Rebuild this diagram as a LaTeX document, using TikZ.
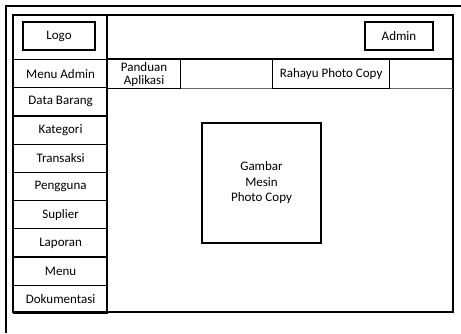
\documentclass[tikz,border=0pt]{standalone}
\usepackage{fontspec}
\setmainfont{Carlito}
\usetikzlibrary{positioning}

\begin{document}
\begin{tikzpicture}[x=1pt,y=-1pt,
    frame/.style={line width=1.2pt},
    cell/.style={draw,line width=1.2pt,inner sep=0pt,minimum width=94pt,
        minimum height=28.2pt,font=\fontsize{13}{13}\selectfont},
    btn/.style={draw,line width=1.2pt,inner sep=0pt,align=center,
        font=\fontsize{13}{13}\selectfont}]
    \useasboundingbox (0,0) rectangle (461,333);

    % Setup some coordinates:
    \def\rowh{28.2}
    \coordinate (page corner) at (6,6);
    \coordinate (inner nw) at (13,15);
    \coordinate (inner se) at (453,312);

    % Draw the page and the layout frame
    \draw [frame] (page corner |- 0,333) -- (page corner) -- (461,6);
    \draw [frame] (inner nw) rectangle (inner se);
    \draw [frame] (107,15) -- (107,312);
    \draw [frame] (107,59) -- (453,59);
    \draw [line width=0.7pt,black!60] (180,88) -- (453,88);

    % Header buttons
    \node [btn,minimum width=72pt,minimum height=28pt] (logo) at (59,36) {Logo};
    \node [btn,minimum width=68pt,minimum height=28pt] (admin) at (399,36) {Admin};
    \node [btn,minimum width=73pt,minimum height=29pt,anchor=north west]
        (panduan) at (107,59) {Panduan\\Aplikasi};
    \node [btn,minimum width=117pt,minimum height=29pt,anchor=north west]
        (rahayu) at (272,59) {Rahayu Photo Copy};

    % The side menu
    \foreach \label [count=\i from 0] in {Menu Admin,Data Barang,Kategori,
        Transaksi,Pengguna,Suplier,Laporan,Menu,Dokumentasi}
        \node [cell,anchor=north west] (side-\i) at (13,59+\rowh*\i) {\label};

    % And the picture in the content area
    \node [btn,minimum width=119pt,minimum height=120pt,
        font=\fontsize{13}{15.5}\selectfont] (gambar) at (261.5,183)
        {Gambar\\Mesin\\Photo Copy};
\end{tikzpicture}
\end{document}
